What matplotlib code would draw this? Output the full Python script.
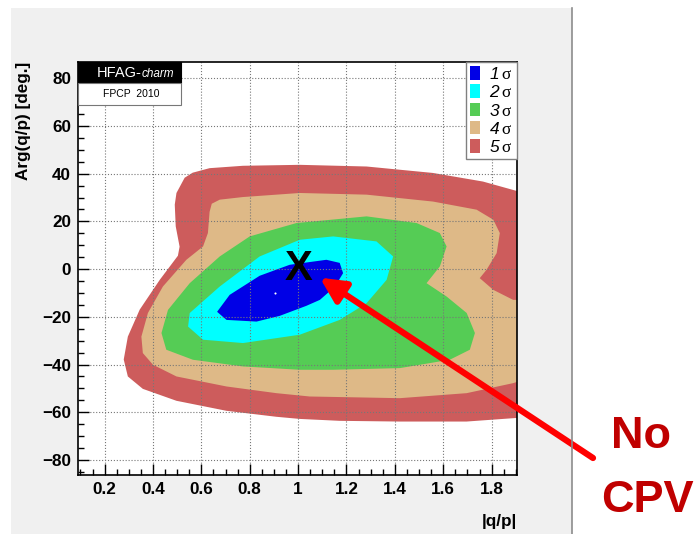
import matplotlib.pyplot as plt
from matplotlib.patches import Rectangle, Patch
from matplotlib.lines import Line2D
from matplotlib.ticker import MultipleLocator, FuncFormatter

plt.rcParams['font.family'] = 'Liberation Sans'
plt.rcParams['mathtext.fontset'] = 'custom'
plt.rcParams['mathtext.sf'] = 'Liberation Sans:italic'
plt.rcParams['mathtext.rm'] = 'Liberation Serif'

# allowed regions in the (|q/p|, Arg(q/p)) plane, outermost first
sig5_x = [0.497, 0.531, 0.564, 0.634, 0.772, 1.007, 1.283, 1.557, 1.764, 1.888, 1.96,
          1.96, 1.888, 1.696, 1.421, 1.172, 1.007, 0.910, 0.704, 0.497, 0.358, 0.296,
          0.279, 0.296, 0.345, 0.428, 0.503, 0.510, 0.494, 0.490]
sig5_y = [31.9, 38.3, 40.4, 42.3, 43.3, 43.7, 43.0, 40.3, 36.7, 33.2, 31.2,
          -62.0, -62.5, -63.9, -63.9, -63.6, -62.8, -61.9, -59.4, -55.2, -50.2, -45.0,
          -37.9, -28.3, -17.0, -4.5, 5.6, 9.4, 17.9, 27.0]

sig4_x = [0.676, 0.772, 1.007, 1.283, 1.558, 1.738, 1.807, 1.834, 1.821, 1.779, 1.751,
          1.807, 1.889, 1.96, 1.96, 1.889, 1.697, 1.421, 1.048, 0.910, 0.704, 0.497,
          0.400, 0.358, 0.352, 0.379, 0.441, 0.538, 0.607, 0.627, 0.634, 0.643]
sig4_y = [29.1, 30.2, 31.9, 31.2, 28.3, 24.9, 20.7, 15.1, 6.7, -0.3, -3.8,
          -8.7, -12.9, -12.9, -45.6, -47.8, -52.0, -54.1, -53.4, -52.0, -49.2, -45.0,
          -40.1, -35.2, -28.3, -18.4, -7.3, 3.9, 9.5, 15.1, 24.0, 27.4]

sig3_x = [0.993, 1.283, 1.490, 1.586, 1.614, 1.586, 1.531, 1.614, 1.697, 1.731, 1.710,
          1.627, 1.421, 1.145, 1.007, 0.772, 0.565, 0.455, 0.435, 0.462, 0.552, 0.676, 0.800]
sig3_y = [19.3, 22.1, 19.3, 15.1, 9.5, 1.1, -5.9, -11.5, -18.4, -26.8, -33.8,
          -38.0, -41.5, -42.2, -42.2, -40.8, -38.0, -33.8, -26.8, -17.1, -5.9, 5.3, 13.7]

sig2_x = [1.007, 1.145, 1.324, 1.393, 1.366, 1.283, 1.172, 1.007, 0.772, 0.607, 0.545,
          0.552, 0.676, 0.841]
sig2_y = [12.3, 13.7, 11.6, 5.3, -4.5, -14.3, -21.3, -27.5, -31.0, -29.6, -24.1,
          -18.4, -7.3, 5.3]

sig1_x = [0.665, 0.717, 0.841, 0.965, 1.117, 1.172, 1.186, 1.152, 1.090, 1.034, 0.924,
          0.828, 0.704]
sig1_y = [-17.9, -10.8, -2.8, 1.8, 3.9, 2.6, -1.7, -7.4, -12.9, -15.4, -19.6,
          -22.0, -21.3]

best_fit = (0.903, -10.0)
no_cpv = (1.0, 0.0)
arrow_tip = (1.09, -3.6)

sigma_labels = ['1', '2', '3', '4', '5']
sigma_colors = ['#0000e6', '#00ffff', '#55cc55', '#deb987', '#cd5c5c']
contours = [(sig1_x, sig1_y), (sig2_x, sig2_y), (sig3_x, sig3_y),
            (sig4_x, sig4_y), (sig5_x, sig5_y)]

fig = plt.figure(figsize=(6.96, 5.34), dpi=100)
fig.patch.set_facecolor('white')
# grey canvas panel with its right border
fig.patches.append(Rectangle((11 / 696, 0), (572 - 11) / 696, 1 - 8 / 534,
                             transform=fig.transFigure, facecolor='#f0f0f0',
                             edgecolor='none', zorder=-2))
fig.lines.append(Line2D([572 / 696, 572 / 696], [0, 1 - 8 / 534],
                        transform=fig.transFigure, color='#8c8c8c', lw=1.2))

ax = fig.add_axes([0.1121, 0.1105, 0.6307, 0.7734])
ax.set_facecolor('white')

for (cx, cy), col in reversed(list(zip(contours, sigma_colors))):
    ax.fill(cx, cy, color=col, lw=0, zorder=1)

ax.plot(*best_fit, marker='o', ms=1.5, color='white', mew=0, zorder=3)
ax.text(*no_cpv, 'X', fontsize=30, fontweight='bold', ha='center', va='center', zorder=4)

ax.set_xlim(0.09, 1.905)
ax.set_ylim(-86.3, 86.8)
ax.xaxis.set_major_locator(MultipleLocator(0.2))
ax.xaxis.set_minor_locator(MultipleLocator(0.05))
ax.yaxis.set_major_locator(MultipleLocator(20))
ax.yaxis.set_minor_locator(MultipleLocator(5))
fmt = FuncFormatter(lambda v, p: f'{v:g}'.replace('-', '\u2212'))
ax.xaxis.set_major_formatter(fmt)
ax.yaxis.set_major_formatter(fmt)
ax.tick_params(which='both', direction='in', top=False, right=False, width=1)
ax.tick_params(which='major', length=8, labelsize=12.3, pad=5)
ax.tick_params(which='minor', length=4)
for lab in ax.get_xticklabels() + ax.get_yticklabels():
    lab.set_fontweight('bold')
ax.grid(True, which='major', ls=':', lw=0.8, color='#777777')
for sp in ax.spines.values():
    sp.set_linewidth(1.2)

ax.set_xlabel('|q/p|', loc='right', fontsize=12.3, fontweight='bold', labelpad=12)
ax.set_ylabel('Arg(q/p) [deg.]', loc='top', fontsize=12.3, fontweight='bold', labelpad=8)

# HFAG logo box in the top-left corner
ax.add_patch(Rectangle((0, 0.950), 0.2346, 0.050, transform=ax.transAxes,
                       facecolor='black', edgecolor='black', lw=0.8, zorder=6,
                       clip_on=False))
ax.add_patch(Rectangle((0, 0.896), 0.2346, 0.054, transform=ax.transAxes,
                       facecolor='white', edgecolor='#777777', lw=0.8, zorder=6,
                       clip_on=False))
ax.text(0.145, 0.9644, 'HFAG-', transform=ax.transAxes, color='white', fontsize=10.5,
        ha='right', va='baseline', zorder=7)
ax.text(0.145, 0.9644, 'charm', transform=ax.transAxes, color='white', fontsize=8.5,
        style='italic', ha='left', va='baseline', zorder=7)
ax.text(0.121, 0.9145, 'FPCP  2010', transform=ax.transAxes, color='black', fontsize=7.5,
        ha='center', va='baseline', zorder=7)

handles = [Patch(facecolor=c, edgecolor='none') for c in sigma_colors]
labels = [rf'$\mathsf{{{s}}}\,\mathrm{{\sigma}}$' for s in sigma_labels]
leg = ax.legend(handles, labels, loc='upper right', bbox_to_anchor=(1, 1),
                borderaxespad=0, fontsize=12.5, handlelength=0.6, handleheight=0.85,
                handletextpad=0.5, labelspacing=0.12, borderpad=0.25, fancybox=False,
                framealpha=1, edgecolor='#808080')
leg.get_frame().set_linewidth(1)
leg.set_zorder(8)

# arrow from the annotation to the no-CP-violation point
ax.annotate('', xy=arrow_tip, xycoords='data',
            xytext=(593 / 696, 1 - 458 / 534), textcoords='figure fraction',
            arrowprops=dict(arrowstyle='-|>,head_length=0.6,head_width=0.3',
                            mutation_scale=25, lw=4.5, color='red',
                            shrinkA=0, shrinkB=0),
            annotation_clip=False, zorder=9)
fig.text(641 / 696, 1 - 437 / 534, 'No', color='#c00000', fontsize=32.5,
         fontweight='bold', ha='center', va='center')
fig.text(647 / 696, 1 - 501 / 534, 'CPV', color='#c00000', fontsize=32.5,
         fontweight='bold', ha='center', va='center')

fig.savefig('out.png', dpi=100)
